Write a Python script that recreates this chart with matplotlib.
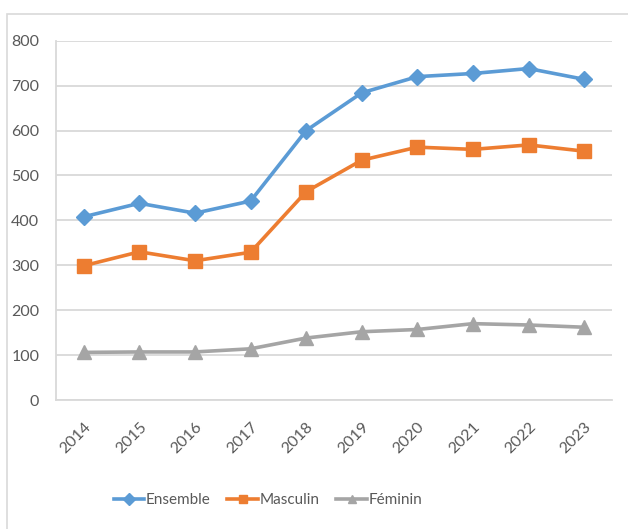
import numpy as np
import matplotlib.pyplot as plt
from matplotlib.patches import Rectangle

plt.rcParams['font.family'] = ['Lato', 'DejaVu Sans']

years = ['2014', '2015', '2016', '2017', '2018', '2019', '2020', '2021', '2022', '2023']
ensemble = [408, 438, 416, 443, 600, 684, 720, 727, 738, 714]
masculin = [299, 330, 310, 329, 464, 534, 563, 558, 568, 554]
feminin = [106, 107, 107, 114, 138, 152, 157, 170, 167, 162]

series = [
    ('Ensemble', ensemble, '#5B9BD5', 'D', 8),
    ('Masculin', masculin, '#ED7D31', 's', 10),
    ('Féminin', feminin, '#A5A5A5', '^', 10),
]

fig = plt.figure(figsize=(6.28, 5.29), dpi=100)
ax = fig.add_axes([56 / 628, 1 - 400 / 529, 556 / 628, 359.3 / 529])

# outer chart border (Excel style)
fig.patches.append(Rectangle((7 / 628, -0.1), 1.2, 1 - 14 / 529 + 0.1,
                             transform=fig.transFigure, fill=False,
                             edgecolor='#d9d9d9', linewidth=1.2))

x = np.arange(len(years))
for name, vals, col, mk, ms in series:
    ax.plot(x, vals, color=col, linewidth=2.6, marker=mk, markersize=ms,
            label=name)

ax.set_xlim(-0.5, len(years) - 0.5)
ax.set_ylim(0, 800)
ax.set_yticks(range(0, 801, 100))
ax.set_xticks(x)
ax.set_xticklabels(years, rotation=45, ha='right', rotation_mode='anchor')
ax.grid(axis='y', color='#d9d9d9', linewidth=1.3)
ax.set_axisbelow(True)
for s in ['top', 'right']:
    ax.spines[s].set_visible(False)
ax.spines['left'].set_color('#d9d9d9')
ax.spines['bottom'].set_color('#d9d9d9')
ax.spines['left'].set_linewidth(1.3)
ax.spines['bottom'].set_linewidth(1.3)
ax.tick_params(length=0, colors='#595959', labelsize=11.5)
ax.tick_params(axis='x', pad=14)
ax.tick_params(axis='y', pad=12)

leg = ax.legend(loc='center', bbox_to_anchor=(268 / 628, 1 - 500 / 529),
                bbox_transform=fig.transFigure, ncol=3, frameon=False,
                fontsize=11, handlelength=2.0, handletextpad=0.1,
                columnspacing=1.1, labelcolor='#595959')
for ln in leg.get_lines():
    ln.set_markersize(6)

fig.savefig('out.png', dpi=100)
